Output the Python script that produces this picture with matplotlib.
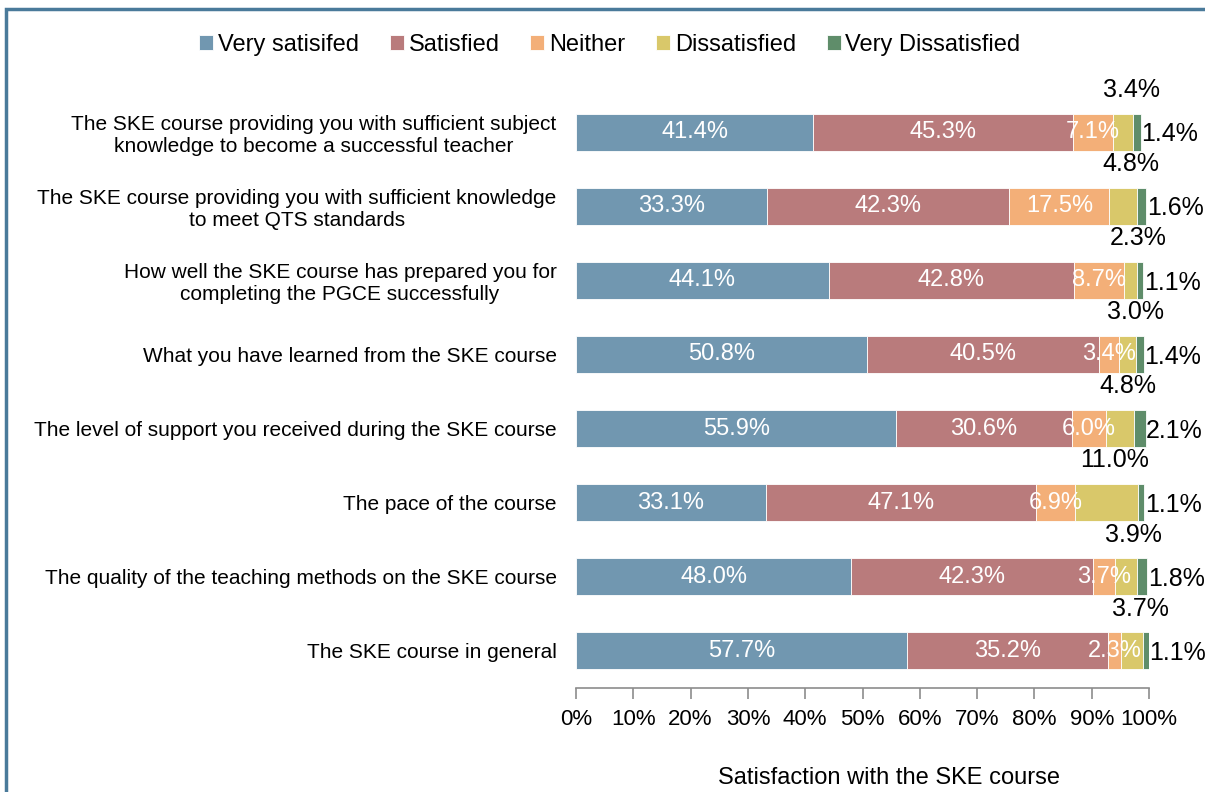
import numpy as np
import matplotlib
matplotlib.use('Agg')
import matplotlib.pyplot as plt
from matplotlib.patches import Rectangle

plt.rcParams['font.family'] = ['Liberation Sans', 'DejaVu Sans']

categories = [
    'The SKE course providing you with sufficient subject\nknowledge to become a successful teacher',
    'The SKE course providing you with sufficient knowledge\nto meet QTS standards',
    'How well the SKE course has prepared you for\ncompleting the PGCE successfully',
    'What you have learned from the SKE course',
    'The level of support you received during the SKE course',
    'The pace of the course',
    'The quality of the teaching methods on the SKE course',
    'The SKE course in general',
]
series_names = ['Very satisifed', 'Satisfied', 'Neither', 'Dissatisfied', 'Very Dissatisfied']
very_satisfied    = [41.4, 33.3, 44.1, 50.8, 55.9, 33.1, 48.0, 57.7]
satisfied         = [45.3, 42.3, 42.8, 40.5, 30.6, 47.1, 42.3, 35.2]
neither           = [7.1, 17.5, 8.7, 3.4, 6.0, 6.9, 3.7, 2.3]
dissatisfied      = [3.4, 4.8, 2.3, 3.0, 4.8, 11.0, 3.9, 3.7]
very_dissatisfied = [1.4, 1.6, 1.1, 1.4, 2.1, 1.1, 1.8, 1.1]
colors = ['#7197b0', '#b97b7c', '#f3af78', '#d9c86a', '#5f8d6a']

series = [very_satisfied, satisfied, neither, dissatisfied, very_dissatisfied]

fig = plt.figure(figsize=(12.05, 7.92), dpi=100)
ax = fig.add_axes([576 / 1205, 1 - 688 / 792, (1149 - 576) / 1205, (688 - 95) / 792])

y = np.arange(len(categories))
left = np.zeros(len(categories))
for i, (vals, name, col) in enumerate(zip(series, series_names, colors)):
    vals = np.array(vals)
    ax.barh(y, vals, left=left, height=0.5, color=col, label=name,
            edgecolor='white', linewidth=0.6)
    for j in range(len(y)):
        txt = '%.1f%%' % vals[j]
        if i < 3:
            ax.text(left[j] + vals[j] / 2, y[j], txt, ha='center', va='center',
                    color='white', fontsize=17)
        elif i == 3:
            # dissatisfied share sits above the bar
            ax.text(left[j] + vals[j] / 2 + 1.4, y[j] - 0.57, txt, ha='center',
                    va='center', color='black', fontsize=18)
        else:
            ax.text(left[j] + vals[j] + 0.1, y[j] + 0.03, txt, ha='left',
                    va='center', color='black', fontsize=18)
    left += vals

ax.set_xlim(0, 100)
ax.set_ylim(len(categories) - 0.5, -0.5)
ax.set_xticks(np.arange(0, 101, 10))
ax.set_xticklabels(['%d%%' % v for v in range(0, 101, 10)], fontsize=16)
ax.set_yticks(y)
ax.set_yticklabels(categories, fontsize=15)
for lab in ax.get_yticklabels():
    lab.set_multialignment('center')
ax.tick_params(axis='y', length=0, pad=14)
ax.tick_params(axis='x', length=8, color='#8c8c8c', width=1.2, pad=7)
for s in ['left', 'top', 'right']:
    ax.spines[s].set_visible(False)
ax.spines['bottom'].set_color('#8c8c8c')
ax.spines['bottom'].set_linewidth(1.2)
ax.set_xlabel('Satisfaction with the SKE course', fontsize=17, labelpad=27, x=0.546)

fig.legend(loc='center', bbox_to_anchor=(0.506, 0.943), ncol=5, frameon=False,
           fontsize=17, handlelength=0.6, handleheight=0.6, handletextpad=0.2,
           columnspacing=1.3)

# outer frame
fig.patches.append(Rectangle((6 / 1205, -0.1), 1.2, (1 - 9 / 792) + 0.1,
                             transform=fig.transFigure, fill=False,
                             edgecolor='#4a7a9a', linewidth=2.5))

fig.savefig('out.png', dpi=100)
